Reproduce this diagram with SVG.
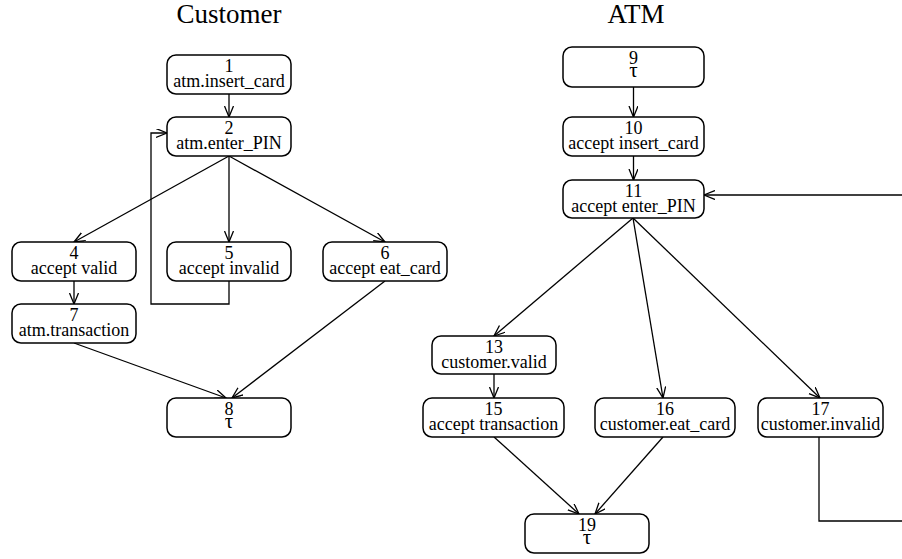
<svg xmlns="http://www.w3.org/2000/svg" width="902" height="559" viewBox="0 0 902 559">
<style>
.n rect{fill:#fff;stroke:#000;stroke-width:1.5}
text{font-family:'Liberation Serif','DejaVu Serif',serif;text-anchor:middle;fill:#000}
.n text{font-size:18px}
.n text.tau{font-size:21px}
.t{font-size:27px}
.c path{fill:none;stroke:#000;stroke-width:1.3;marker-end:url(#a)}
.c path.p{marker-end:none}
</style>
<defs>
<marker id="a" markerUnits="userSpaceOnUse" markerWidth="12" markerHeight="10" refX="11" refY="4.5" orient="auto">
<path d="M0,0 L11,4.5 L0,9" fill="none" stroke="#000" stroke-width="1.3"/>
</marker>
</defs>
<rect width="902" height="559" fill="#fff"/>
<text class="t" x="229" y="23">Customer</text>
<text class="t" x="636" y="23">ATM</text>
<g class="c">
<path d="M229,94 L229,117"/>
<path d="M229,156 L74,242"/>
<path d="M229,156 L229,242"/>
<path d="M229,156 L385,242"/>
<path d="M229,281 L229,304 L151,304 L151,133 L167,133"/>
<path d="M74,281 L74,304"/>
<path d="M74,343 L226,398"/>
<path d="M385,281 L232,398"/>
<path d="M633.5,87 L633.5,117"/>
<path d="M633.5,156 L633.5,180"/>
<path d="M902,195 L704,195"/>
<path d="M633,218 L494,336"/>
<path d="M633,218 L663,398"/>
<path d="M633,218 L820,398"/>
<path d="M494,374 L494,398"/>
<path d="M494,437 L579,514"/>
<path d="M663,437 L595,514"/>
<path class="p" d="M819,437 L819,521 L902,521"/>
</g>
<g id="n1" class="n"><rect x="167" y="55" width="124" height="39" rx="9"/><text x="229" y="71.5">1</text><text x="229" y="86.5">atm.insert_card</text></g>
<g id="n2" class="n"><rect x="167" y="117" width="124" height="39" rx="9"/><text x="229" y="133.5">2</text><text x="229" y="148.5">atm.enter_PIN</text></g>
<g id="n4" class="n"><rect x="12" y="242" width="124" height="39" rx="9"/><text x="74" y="258.5">4</text><text x="74" y="273.5">accept valid</text></g>
<g id="n5" class="n"><rect x="167" y="242" width="124" height="39" rx="9"/><text x="229" y="258.5">5</text><text x="229" y="273.5">accept invalid</text></g>
<g id="n6" class="n"><rect x="323" y="242" width="124" height="39" rx="9"/><text x="385" y="258.5">6</text><text x="385" y="273.5">accept eat_card</text></g>
<g id="n7" class="n"><rect x="12" y="304" width="124" height="39" rx="9"/><text x="74" y="320.5">7</text><text x="74" y="335.5">atm.transaction</text></g>
<g id="n8" class="n"><rect x="167" y="398" width="124" height="39" rx="9"/><text x="229" y="414.5">8</text><text class="tau" x="229" y="428">τ</text></g>
<g id="n9" class="n"><rect x="563" y="47" width="141" height="40" rx="9"/><text x="633.5" y="63.5">9</text><text class="tau" x="633.5" y="77">τ</text></g>
<g id="n10" class="n"><rect x="563" y="117" width="141" height="39" rx="9"/><text x="633.5" y="133.5">10</text><text x="633.5" y="148.5">accept insert_card</text></g>
<g id="n11" class="n"><rect x="563" y="180" width="141" height="38" rx="9"/><text x="633.5" y="196.5">11</text><text x="633.5" y="211.5">accept enter_PIN</text></g>
<g id="n13" class="n"><rect x="432" y="336" width="124" height="38" rx="9"/><text x="494" y="352.5">13</text><text x="494" y="367.5">customer.valid</text></g>
<g id="n15" class="n"><rect x="423" y="398" width="141" height="39" rx="9"/><text x="493.5" y="414.5">15</text><text x="493.5" y="429.5">accept transaction</text></g>
<g id="n16" class="n"><rect x="595" y="398" width="140" height="39" rx="9"/><text x="665" y="414.5">16</text><text x="665" y="429.5">customer.eat_card</text></g>
<g id="n17" class="n"><rect x="758" y="398" width="125" height="39" rx="9"/><text x="820.5" y="414.5">17</text><text x="820.5" y="429.5">customer.invalid</text></g>
<g id="n19" class="n"><rect x="525" y="514" width="124" height="39" rx="9"/><text x="587" y="530.5">19</text><text class="tau" x="587" y="544">τ</text></g>
</svg>
